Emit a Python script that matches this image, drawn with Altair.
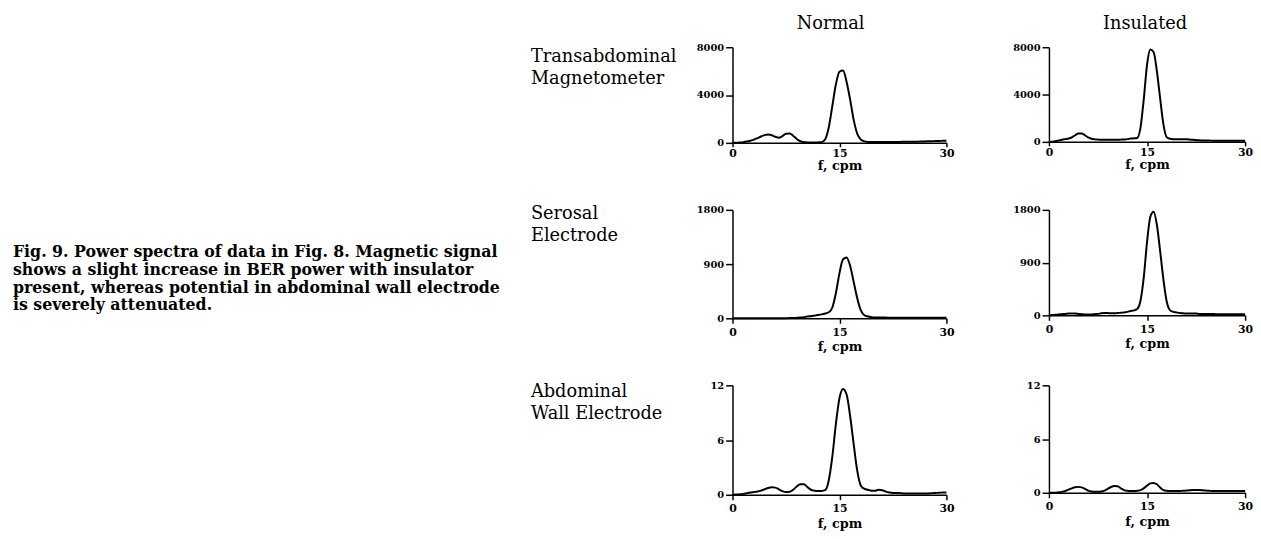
import altair as alt
import pandas as pd

# ---------------- data ----------------
freq = [0, 0.5, 1, 1.5, 2, 2.5, 3, 3.5, 4, 4.5,
        5, 5.5, 6, 6.5, 7, 7.5, 8, 8.5, 9, 9.5,
        10, 10.5, 11, 11.5, 12, 12.5, 13, 13.5, 14, 14.5,
        15, 15.5, 16, 16.5, 17, 17.5, 18, 18.5, 19, 19.5,
        20, 20.5, 21, 21.5, 22, 22.5, 23, 23.5, 24, 24.5,
        25, 25.5, 26, 26.5, 27, 27.5, 28, 28.5, 29, 29.5, 30]

normal_mag = [0, 10, 30, 60, 110, 180, 270, 390, 530, 650,
              690, 640, 510, 430, 560, 760, 780, 600, 330, 140,
              60, 40, 30, 30, 40, 60, 300, 1300, 3100, 4900,
              5950, 6050, 5100, 3600, 1900, 750, 280, 120, 80, 70,
              70, 70, 70, 80, 80, 80, 80, 80, 90, 90,
              90, 100, 100, 110, 120, 130, 140, 150, 160, 170, 180]
insul_mag = [0, 20, 60, 120, 180, 230, 280, 380, 560, 710,
             700, 560, 380, 260, 210, 190, 180, 170, 170, 170,
             180, 180, 190, 200, 230, 280, 300, 330, 1200, 3600,
             6500, 7800, 7600, 6000, 3700, 1500, 400, 260, 230, 230,
             230, 220, 220, 200, 170, 150, 130, 120, 110, 110,
             100, 100, 100, 100, 100, 100, 100, 100, 100, 100, 100]
normal_ser = [0, 0, 0, 0, 0, 0, 0, 0, 0, 0,
              0, 0, 0, 0, 0, 2, 5, 5, 8, 12,
              20, 30, 35, 45, 55, 65, 80, 100, 180, 420,
              750, 980, 1010, 870, 600, 330, 130, 50, 30, 20,
              15, 15, 12, 12, 10, 10, 10, 10, 10, 10,
              10, 10, 10, 10, 10, 10, 10, 10, 10, 10, 10]
insul_ser = [0, 5, 10, 15, 20, 25, 30, 30, 30, 25,
             20, 15, 15, 15, 20, 25, 35, 40, 40, 35,
             35, 40, 45, 50, 60, 75, 85, 110, 250, 650,
             1250, 1680, 1770, 1550, 1100, 620, 240, 90, 60, 50,
             40, 35, 30, 30, 30, 30, 25, 25, 25, 25,
             25, 20, 20, 20, 20, 20, 20, 20, 20, 20, 20]
normal_abd = [0, 0.02, 0.05, 0.1, 0.18, 0.25, 0.3, 0.35, 0.45, 0.6,
              0.75, 0.82, 0.78, 0.6, 0.4, 0.3, 0.32, 0.55, 0.9, 1.15,
              1.15, 0.85, 0.55, 0.45, 0.42, 0.42, 0.5, 1.6, 4.2, 7.8,
              10.6, 11.6, 11.0, 8.6, 5.5, 2.6, 1.0, 0.65, 0.55, 0.45,
              0.45, 0.55, 0.5, 0.35, 0.25, 0.2, 0.2, 0.18, 0.15, 0.15,
              0.15, 0.15, 0.15, 0.15, 0.15, 0.15, 0.18, 0.2, 0.22, 0.25, 0.25]
insul_abd = [0, 0, 0.02, 0.05, 0.1, 0.2, 0.35, 0.5, 0.62, 0.66,
             0.6, 0.45, 0.25, 0.15, 0.12, 0.12, 0.15, 0.25, 0.45, 0.65,
             0.75, 0.72, 0.5, 0.3, 0.22, 0.2, 0.2, 0.22, 0.3, 0.5,
             0.8, 1.05, 1.1, 0.95, 0.6, 0.3, 0.22, 0.2, 0.2, 0.2,
             0.2, 0.22, 0.25, 0.28, 0.3, 0.3, 0.3, 0.28, 0.25, 0.22,
             0.2, 0.2, 0.2, 0.2, 0.2, 0.2, 0.2, 0.2, 0.2, 0.2, 0.2]

series = [[normal_mag, insul_mag], [normal_ser, insul_ser], [normal_abd, insul_abd]]
row_labels = [["Transabdominal", "Magnetometer"], ["Serosal", "Electrode"],
              ["Abdominal", "Wall Electrode"]]
col_titles = ["Normal", "Insulated"]
y_max = [8000, 1800, 12]
y_ticks = [[0, 4000, 8000], [0, 900, 1800], [0, 6, 12]]
x_ticks = [0, 15, 30]
x_title = "f, cpm"
caption_lines = [
    "Fig. 9.  Power spectra of data in Fig. 8. Magnetic signal",
    "shows a slight increase in BER power with insulator",
    "present, whereas potential in abdominal wall electrode",
    "is severely attenuated.",
]

# ---------------- layout / style ----------------
SERIF = "DejaVu Serif"
widths = [217, 199]
heights = [[97, 96], [110, 107], [111, 109]]
row_label_y = [0, -5, -3]
x_tick_size = [4, 5, 5]
x_label_pad = [1, 3, 3]
x_title_pad = [1, 4, 4]
col_dx = [-9, -2]


def panel(r, c):
    df = pd.DataFrame({"f": freq, "p": series[r][c]})
    y_axis_args = dict(values=y_ticks[r], format="d", tickSize=7, tickWidth=1.5,
                       domainWidth=1.5, domainColor="black", tickColor="black",
                       labelColor="black", labelFont=SERIF, labelFontSize=10,
                       labelFontWeight="bold", labelPadding=2, grid=False)
    if c == 0:
        y_axis = alt.Axis(title=row_labels[r], titleAngle=0, titleAlign="left",
                          titleBaseline="top", titleX=-205, titleY=row_label_y[r],
                          titleFont=SERIF, titleFontSize=18, titleFontWeight="normal",
                          titleColor="black", titleLineHeight=22.5, **y_axis_args)
    else:
        y_axis = alt.Axis(title=None, **y_axis_args)
    x_axis = alt.Axis(values=x_ticks, format="d", title=x_title, tickSize=x_tick_size[r],
                      tickWidth=1.5, domainWidth=1.5, domainColor="black",
                      tickColor="black", labelColor="black", labelFont=SERIF,
                      labelFontSize=11, labelFontWeight="bold",
                      labelPadding=x_label_pad[r], titleFont=SERIF, titleFontSize=13,
                      titleFontWeight="bold", titleColor="black",
                      titlePadding=x_title_pad[r], grid=False, labelFlush=False)
    line = alt.Chart(df).mark_line(color="black", strokeWidth=2, interpolate="monotone").encode(
        x=alt.X("f:Q", scale=alt.Scale(domain=[0, 30], nice=False, zero=True), axis=x_axis),
        y=alt.Y("p:Q", scale=alt.Scale(domain=[0, y_max[r]], nice=False), axis=y_axis),
    )
    layers = [line]
    if r == 1 and c == 0:
        cap = alt.Chart(alt.Data(values=[{"k": 1}])).mark_text(
            text=caption_lines, align="left", baseline="top", font=SERIF, fontSize=16,
            fontWeight="bold", lineHeight=18, color="black",
        ).encode(x=alt.value(-730), y=alt.value(35))
        layers.append(cap)
    props = dict(width=widths[c], height=heights[r][c])
    if r == 0:
        props["title"] = alt.TitleParams(text=col_titles[c], font=SERIF, fontSize=18,
                                         fontWeight="normal", color="black", anchor="middle",
                                         frame="group", baseline="alphabetic", offset=14,
                                         dx=col_dx[c], dy=18)
    if len(layers) == 1:
        return line.properties(**props)
    return alt.layer(*layers).properties(**props)


panels = [panel(r, c) for r in range(3) for c in range(2)]

chart = alt.concat(*panels, columns=2).properties(
    spacing={"row": 68, "column": 104},
    bounds="flush",
    padding={"left": 5, "top": 3, "right": 0, "bottom": 0},
    background="white",
).configure_view(stroke=None)

chart.save("out.html", embed_options={"renderer": "svg", "actions": False})
